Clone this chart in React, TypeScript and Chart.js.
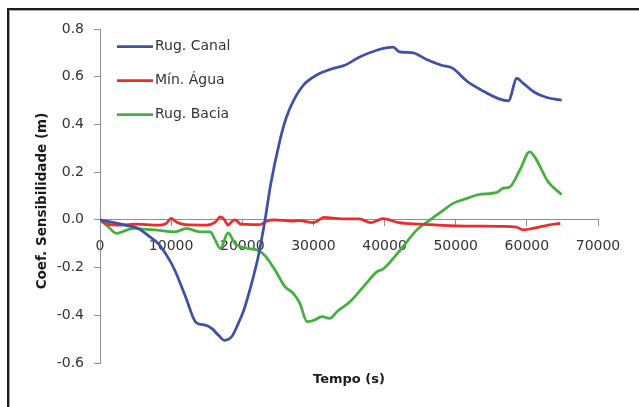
import React, { useEffect, useRef } from 'react';
import { Chart, registerables } from 'chart.js';

Chart.register(...registerables);

// ---- data (time in s, coefficient in m) ----
const canalLabel = 'Rug. Canal';
const canalT = [0, 2000, 4000, 5400, 6700, 8200, 9400, 10500, 12000, 13500, 14800, 15700, 16700, 17500, 18500, 19500, 20200, 21000, 22200, 23200, 24000, 25300, 26200, 27200, 28600, 30400, 32800, 34400, 36500, 38900, 40400, 41200, 42100, 44000, 45900, 48000, 49600, 51600, 53600, 56000, 57400, 58600, 59500, 61000, 62800, 64900];
const canalV = [0, -0.012, -0.025, -0.036, -0.064, -0.1, -0.15, -0.21, -0.32, -0.43, -0.441, -0.455, -0.485, -0.505, -0.49, -0.43, -0.38, -0.3, -0.16, 0, 0.15, 0.334, 0.43, 0.5, 0.565, 0.606, 0.635, 0.648, 0.683, 0.711, 0.722, 0.724, 0.704, 0.7, 0.672, 0.648, 0.635, 0.581, 0.544, 0.508, 0.499, 0.593, 0.572, 0.536, 0.513, 0.502];

const aguaLabel = 'Mín. Água';
const aguaT = [0, 1000, 3000, 5000, 8000, 9300, 10000, 10800, 12000, 15000, 16200, 16900, 17500, 18000, 18600, 19000, 19800, 22500, 23500, 24500, 27000, 28000, 30000, 31500, 34000, 36500, 38000, 39800, 42000, 45000, 50000, 56500, 58500, 59500, 61000, 63000, 64700];
const aguaV = [0, -0.018, -0.022, -0.018, -0.022, -0.015, 0.006, -0.01, -0.02, -0.022, -0.01, 0.012, 0, -0.022, -0.005, 0, -0.018, -0.02, -0.005, 0, -0.005, -0.003, -0.012, 0.01, 0.004, 0.004, -0.012, 0.005, -0.012, -0.018, -0.025, -0.027, -0.03, -0.042, -0.035, -0.022, -0.015];

const baciaLabel = 'Rug. Bacia';
const baciaT = [0, 1200, 2350, 3750, 4700, 6500, 8000, 10500, 12200, 14000, 15500, 16200, 16900, 18000, 19000, 20400, 22200, 23200, 24600, 26000, 27200, 28100, 29100, 30000, 31200, 32300, 33300, 35100, 37000, 38900, 39800, 42200, 44500, 46400, 47800, 49700, 51600, 53200, 55800, 56700, 57600, 59000, 60400, 61100, 63000, 64900];
const baciaV = [0, -0.03, -0.057, -0.043, -0.036, -0.04, -0.043, -0.05, -0.036, -0.05, -0.05, -0.085, -0.12, -0.055, -0.1, -0.118, -0.127, -0.15, -0.21, -0.28, -0.309, -0.35, -0.427, -0.422, -0.406, -0.413, -0.385, -0.344, -0.281, -0.218, -0.206, -0.127, -0.043, 0, 0.03, 0.07, 0.09, 0.106, 0.115, 0.133, 0.138, 0.208, 0.285, 0.264, 0.159, 0.106];

const xMin = 0;
const xMax = 70000;
const xStep = 10000;
const yMin = -0.6;
const yMax = 0.8;
const yStep = 0.2;

const xTitle = 'Tempo (s)';
const yTitle = 'Coef. Sensibilidade (m)';

const FONT = '"DejaVu Sans", "Liberation Sans", sans-serif';
const TEXT = '#333333';
const AXIS = '#8e8e8e';

const zip = (t: number[], v: number[]) => t.map((x, i) => ({ x, y: v[i] }));

const framePlugin = {
  id: 'outerFrame',
  beforeDraw(chart: any) {
    const { ctx, width, height } = chart;
    ctx.save();
    ctx.fillStyle = '#ffffff';
    ctx.fillRect(0, 0, width, height);
    ctx.fillStyle = '#1c1c1c';
    ctx.fillRect(7, 8, width - 7, 2);
    ctx.fillRect(7, 8, 2, height - 8);
    ctx.fillStyle = '#a8a8a8';
    ctx.fillRect(9, 10, width - 9, 1);
    ctx.fillRect(9, 10, 1, height - 10);
    ctx.restore();
  },
};

const titlesPlugin = {
  id: 'axisTitles',
  afterDraw(chart: any) {
    const { ctx, chartArea } = chart;
    ctx.save();
    ctx.fillStyle = '#1a1a1a';
    ctx.textAlign = 'center';
    ctx.textBaseline = 'middle';
    ctx.font = `bold 13px ${FONT}`;
    ctx.fillText(xTitle, (chartArea.left + chartArea.right) / 2, chartArea.bottom + 17);
    ctx.translate(42, (chartArea.top + chartArea.bottom) / 2 + 5);
    ctx.rotate(-Math.PI / 2);
    ctx.font = `bold 13.5px ${FONT}`;
    ctx.fillText(yTitle, 0, 0);
    ctx.restore();
  },
};

const legendPlugin = {
  id: 'insideLegend',
  afterDraw(chart: any) {
    const { ctx, chartArea } = chart;
    ctx.save();
    chart.data.datasets.forEach((ds: any, i: number) => {
      const y = chartArea.top + 17.5 + i * 34;
      const x0 = chartArea.left + 17;
      ctx.strokeStyle = ds.borderColor;
      ctx.lineWidth = 2.75;
      ctx.beginPath();
      ctx.moveTo(x0, y);
      ctx.lineTo(x0 + 36, y);
      ctx.stroke();
      ctx.fillStyle = TEXT;
      ctx.font = `14px ${FONT}`;
      ctx.textAlign = 'left';
      ctx.textBaseline = 'middle';
      ctx.fillText(ds.label, x0 + 38, y);
    });
    ctx.restore();
  },
};

export default function App() {
  const ref = useRef<HTMLCanvasElement>(null);

  useEffect(() => {
    if (!ref.current) return;
    const mk = (label: string, t: number[], v: number[], color: string) => ({
      label,
      data: zip(t, v),
      borderColor: color,
      backgroundColor: color,
      borderWidth: 2.75,
      pointRadius: 0,
      fill: false,
      cubicInterpolationMode: 'monotone' as const,
    });
    const chart = new Chart(ref.current, {
      type: 'line',
      data: {
        datasets: [
          mk(canalLabel, canalT, canalV, '#3f51a6'),
          mk(aguaLabel, aguaT, aguaV, '#ee2b2b'),
          mk(baciaLabel, baciaT, baciaV, '#45b03d'),
        ],
      },
      options: {
        animation: false,
        responsive: false,
        events: [],
        layout: { padding: { left: 0, top: 29, right: 41, bottom: 44 } },
        plugins: { legend: { display: false }, tooltip: { enabled: false } },
        scales: {
          x: {
            type: 'linear',
            position: { y: 0 } as any,
            min: xMin,
            max: xMax,
            grid: { display: true, drawOnChartArea: false, drawTicks: true, tickLength: 6, color: AXIS, lineWidth: 1 },
            border: { display: true, color: AXIS, width: 1 },
            ticks: {
              stepSize: xStep,
              padding: 12,
              color: TEXT,
              font: { family: FONT, size: 14 },
              maxRotation: 0,
              callback: (v: any) => String(v),
            },
          },
          y: {
            type: 'linear',
            position: 'left',
            min: yMin,
            max: yMax,
            afterFit: (s: any) => { s.width = 100; },
            grid: { display: true, drawOnChartArea: false, drawTicks: true, tickLength: 6, color: AXIS, lineWidth: 1 },
            border: { display: true, color: AXIS, width: 1 },
            ticks: {
              stepSize: yStep,
              padding: 10,
              color: TEXT,
              font: { family: FONT, size: 14 },
              callback: (v: any) => (Math.abs(Number(v)) < 1e-9 ? '0.0' : Number(v).toFixed(1)),
            },
          },
        },
      },
      plugins: [framePlugin, titlesPlugin, legendPlugin],
    });
    return () => chart.destroy();
  }, []);

  return (
    <div style={{ position: 'fixed', left: 0, top: 0, width: 639, height: 407, background: '#fff', overflow: 'hidden' }}>
      <canvas ref={ref} width={639} height={407} style={{ position: 'absolute', left: 0, top: 0, display: 'block' }} />
    </div>
  );
}
